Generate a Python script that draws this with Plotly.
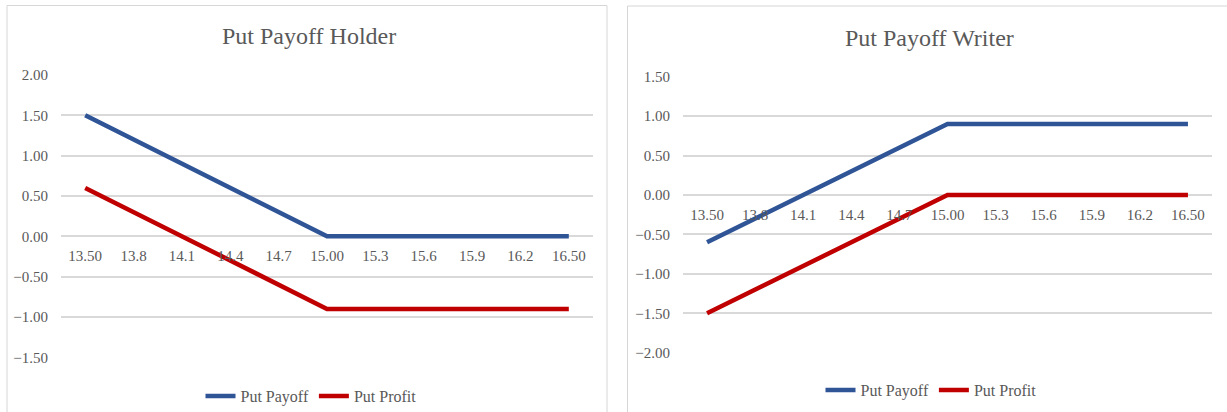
import plotly.graph_objects as go

W, H = 1227, 412

strikes = ["13.50", "13.8", "14.1", "14.4", "14.7", "15.00", "15.3", "15.6", "15.9", "16.2", "16.50"]

holder_payoff = [1.5, 1.2, 0.9, 0.6, 0.3, 0.0, 0.0, 0.0, 0.0, 0.0, 0.0]
holder_profit = [0.6, 0.3, 0.0, -0.3, -0.6, -0.9, -0.9, -0.9, -0.9, -0.9, -0.9]

writer_payoff = [-0.6, -0.3, 0.0, 0.3, 0.6, 0.9, 0.9, 0.9, 0.9, 0.9, 0.9]
writer_profit = [-1.5, -1.2, -0.9, -0.6, -0.3, 0.0, 0.0, 0.0, 0.0, 0.0, 0.0]

holder_ticks = [2.0, 1.5, 1.0, 0.5, 0.0, -0.5, -1.0, -1.5]
writer_ticks = [1.5, 1.0, 0.5, 0.0, -0.5, -1.0, -1.5, -2.0]

BLUE = "#2F5597"
RED = "#C00000"
GRID = "#D9D9D9"
TEXT = "#595959"
FONT = "Liberation Serif"


def px_x(p):
    return p / W


def px_y(p):
    return 1 - p / H


fig = go.Figure()

fig.add_trace(go.Scatter(x=strikes, y=holder_payoff, name="Put Payoff", mode="lines",
                         line=dict(color=BLUE, width=4.5), xaxis="x", yaxis="y", legend="legend"))
fig.add_trace(go.Scatter(x=strikes, y=holder_profit, name="Put Profit", mode="lines",
                         line=dict(color=RED, width=4.5), xaxis="x", yaxis="y", legend="legend"))
fig.add_trace(go.Scatter(x=strikes, y=writer_payoff, name="Put Payoff", mode="lines",
                         line=dict(color=BLUE, width=4.5), xaxis="x2", yaxis="y2", legend="legend2"))
fig.add_trace(go.Scatter(x=strikes, y=writer_profit, name="Put Profit", mode="lines",
                         line=dict(color=RED, width=4.5), xaxis="x2", yaxis="y2", legend="legend2"))

# plot areas (pixel positions converted to paper fractions)
L_dom_x = [px_x(61), px_x(593)]
L_dom_y = [px_y(357.3), px_y(75)]
R_dom_x = [px_x(683), px_x(1212)]
R_dom_y = [px_y(352.7), px_y(76.7)]

L_range = [-1.5, 2.0]
R_range = [-2.0, 1.5]


def zero_pos(dom, rng):
    # paper fraction where the value axis crosses zero
    return dom[0] + (0 - rng[0]) / (rng[1] - rng[0]) * (dom[1] - dom[0])


tickfont = dict(family=FONT, size=15, color=TEXT)

xaxis_common = dict(type="category", showgrid=False, showline=False, zeroline=False,
                    ticks="", tickfont=tickfont, range=[-0.5, len(strikes) - 0.5],
                    anchor="free", ticklabelstandoff=9, fixedrange=True, automargin=False)
yaxis_common = dict(showgrid=True, gridcolor=GRID, gridwidth=1.5, zeroline=False,
                    showline=False, ticks="", tickfont=tickfont, tickformat=".2f",
                    ticklabelstandoff=12, fixedrange=True, automargin=False)

legend_common = dict(orientation="h", xanchor="center", yanchor="middle",
                     xref="container", yref="container",
                     font=dict(family=FONT, size=16, color=TEXT), bgcolor="rgba(0,0,0,0)",
                     itemwidth=30, tracegroupgap=0)

fig.update_layout(
    width=W, height=H,
    margin=dict(l=0, r=0, t=0, b=0, autoexpand=False),
    paper_bgcolor="white", plot_bgcolor="white",
    showlegend=True,
    xaxis=dict(domain=L_dom_x, position=zero_pos(L_dom_y, L_range), **xaxis_common),
    yaxis=dict(domain=L_dom_y, range=L_range, tickvals=holder_ticks, anchor="x", **yaxis_common),
    xaxis2=dict(domain=R_dom_x, position=zero_pos(R_dom_y, R_range), **xaxis_common),
    yaxis2=dict(domain=R_dom_y, range=R_range, tickvals=writer_ticks, anchor="x2", **yaxis_common),
    legend=dict(x=px_x(311), y=px_y(396), **legend_common),
    legend2=dict(x=px_x(931), y=px_y(390), **legend_common),
    annotations=[
        dict(text="Put Payoff Holder", x=px_x(309), y=px_y(36), xref="paper", yref="paper",
             showarrow=False, xanchor="center", yanchor="middle",
             font=dict(family=FONT, size=24, color=TEXT)),
        dict(text="Put Payoff Writer", x=px_x(929), y=px_y(38), xref="paper", yref="paper",
             showarrow=False, xanchor="center", yanchor="middle",
             font=dict(family=FONT, size=24, color=TEXT)),
    ],
    shapes=[
        dict(type="rect", xref="paper", yref="paper", x0=px_x(7), x1=px_x(607),
             y0=-0.05, y1=px_y(5.5), line=dict(color="#D6D6D6", width=1), layer="below"),
        dict(type="rect", xref="paper", yref="paper", x0=px_x(627.5), x1=1.05,
             y0=-0.05, y1=px_y(6), line=dict(color="#D6D6D6", width=1), layer="below"),
    ],
)

fig.write_html("out.html")
